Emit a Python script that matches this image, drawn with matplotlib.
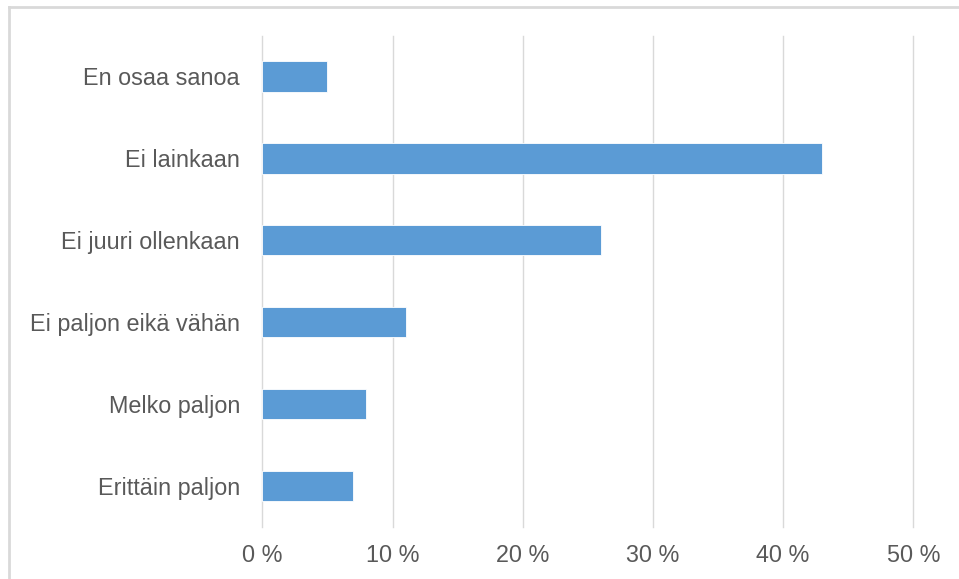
import matplotlib.pyplot as plt
from matplotlib.lines import Line2D
import numpy as np

plt.rcParams['font.family'] = ['Liberation Sans', 'DejaVu Sans']

categories = ['Erittäin paljon', 'Melko paljon', 'Ei paljon eikä vähän',
              'Ei juuri ollenkaan', 'Ei lainkaan', 'En osaa sanoa']
values = [7, 8, 11, 26, 43, 5]
x_ticks = [0, 10, 20, 30, 40, 50]
x_tick_labels = ['0 %', '10 %', '20 %', '30 %', '40 %', '50 %']

text_color = '#595959'
grid_color = '#D9D9D9'
bar_color = '#5B9BD5'

W, H = 959, 579
fig = plt.figure(figsize=(W / 100, H / 100), dpi=100)
ax = fig.add_axes([262.3 / W, 1 - 527 / H, (913.3 - 262.3) / W, (527 - 35.5) / H])

y = np.arange(len(categories))
ax.barh(y, values, height=0.37, color=bar_color, edgecolor='white', linewidth=0.6, zorder=3)

ax.set_xlim(0, 50)
ax.set_ylim(-0.5, len(categories) - 0.5)
ax.set_xticks(x_ticks)
ax.set_xticklabels(x_tick_labels)
ax.set_yticks(y)
ax.set_yticklabels(categories)
ax.tick_params(axis='both', length=0, labelsize=16.8, labelcolor=text_color)
ax.tick_params(axis='y', pad=16)
ax.tick_params(axis='x', pad=12)

ax.grid(axis='x', color=grid_color, linewidth=1.0, zorder=0)
for gl in ax.get_xgridlines():
    gl.set_clip_on(False)
for s in ax.spines.values():
    s.set_visible(False)

# thin frame on the left and top edges of the chart
fig.add_artist(Line2D([9 / W, 9 / W], [0, 1 - 7 / H], transform=fig.transFigure,
                      color='#D9D9D9', linewidth=2))
fig.add_artist(Line2D([9 / W, 1], [1 - 7 / H, 1 - 7 / H], transform=fig.transFigure,
                      color='#D9D9D9', linewidth=2))

fig.savefig('out.png', dpi=100)
